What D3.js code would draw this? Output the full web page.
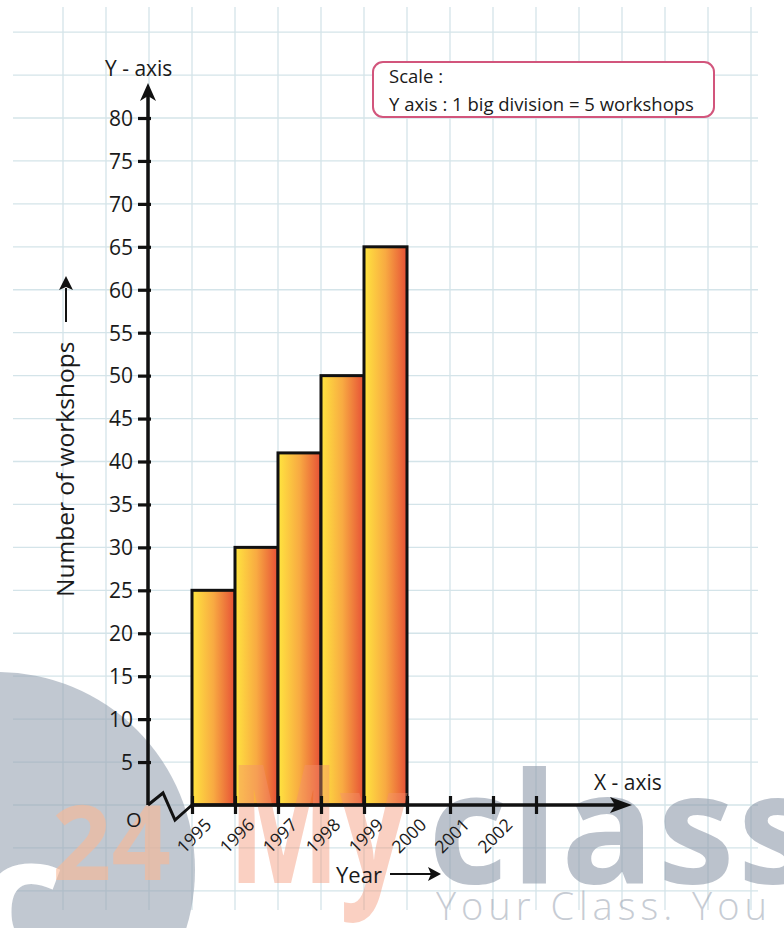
<!DOCTYPE html>
<html>
<head>
<meta charset="utf-8">
<script src="https://cdn.jsdelivr.net/npm/d3@7"></script>
<style>
  html, body { margin: 0; padding: 0; background: #ffffff; }
  svg { display: block; }
  text { font-family: "Open Sans", "Noto Sans", sans-serif; fill: #1a1a1a; }
</style>
</head>
<body>
<svg id="chart" width="784" height="928"></svg>
<script>
// ---------- data ----------
const barYears = [1995, 1996, 1997, 1998, 1999];
const workshops = [25, 30, 41, 50, 65];
const xTickYears = [1995, 1996, 1997, 1998, 1999, 2000, 2001, 2002, 2003];
const xTickLabels = ["1995", "1996", "1997", "1998", "1999", "2000", "2001", "2002", ""];
const yTickValues = [5, 10, 15, 20, 25, 30, 35, 40, 45, 50, 55, 60, 65, 70, 75, 80];
const titleY = "Number of workshops";
const scaleTitle = "Scale :";
const scaleText = "Y axis : 1 big division = 5 workshops";

// ---------- setup ----------
const svg = d3.select("#chart");
const originX = 148;

const y = d3.scaleLinear().domain([0, 80]).range([805, 118]);
const x = d3.scaleLinear().domain([1995, 2003]).range([192, 536]);
const step = x(1996) - x(1995);

// gradient
const defs = svg.append("defs");
const grad = defs.append("linearGradient").attr("id", "barGrad")
  .attr("x1", "0%").attr("x2", "100%").attr("y1", "0%").attr("y2", "0%");
grad.append("stop").attr("offset", "0%").attr("stop-color", "#ffe53f");
grad.append("stop").attr("offset", "50%").attr("stop-color", "#f8aa42");
grad.append("stop").attr("offset", "100%").attr("stop-color", "#e64f36");

// ---------- grid ----------
const grid = svg.append("g").attr("class", "grid");
const gridTop = 7, gridBottom = 910, gridLeft = 13, gridRight = 758;
const vCols = d3.range(-3, 14).map(k => x(1995) + k * step);
const hRows = d3.range(-2, 19).map(j => y(j * 5));
grid.selectAll("line.v").data(vCols).join("line").attr("class", "v")
  .attr("x1", d => d).attr("x2", d => d).attr("y1", gridTop).attr("y2", gridBottom)
  .attr("stroke", "#d4e4e9").attr("stroke-width", 1.3);
grid.selectAll("line.h").data(hRows.filter(v => v >= gridTop && v <= gridBottom)).join("line").attr("class", "h")
  .attr("y1", d => d).attr("y2", d => d).attr("x1", gridLeft).attr("x2", gridRight)
  .attr("stroke", "#d4e4e9").attr("stroke-width", 1.3);

// ---------- bars ----------
svg.append("g").selectAll("rect").data(barYears).join("rect")
  .attr("x", d => x(d))
  .attr("width", d => x(d + 1) - x(d))
  .attr("y", (d, i) => y(workshops[i]))
  .attr("height", (d, i) => y(0) - y(workshops[i]))
  .attr("fill", "url(#barGrad)")
  .attr("stroke", "#111")
  .attr("stroke-width", 3);

// ---------- watermark (beneath axes and labels) ----------
const wm = svg.append("g").attr("pointer-events", "none");
wm.append("circle").attr("cx", -3).attr("cy", 870).attr("r", 198).attr("fill", "#97a3b3").attr("opacity", 0.6);
wm.append("text").attr("x", -22).attr("y", 958).attr("font-size", 170).attr("font-weight", 700).style("fill", "#ffffff").text("c");
wm.append("text").attr("x", 52).attr("y", 880).attr("font-size", 104).attr("font-weight", 700).style("fill", "#fbb995").attr("opacity", 0.6).text("24");
wm.append("text").attr("transform", "translate(228,883) scale(0.72,1)").attr("font-size", 165).attr("font-weight", 700).style("fill", "#f5916f").attr("opacity", 0.42).text("My");
wm.append("text").attr("x", 428).attr("y", 883).attr("font-size", 155).attr("font-weight", 700).attr("letter-spacing", 3).style("fill", "#8f9aab").attr("opacity", 0.6).text("class");
wm.append("text").attr("x", 436).attr("y", 920).attr("font-size", 38).attr("font-weight", 300).attr("letter-spacing", 5).style("fill", "#9aa4b1").attr("opacity", 0.55).text("Your Class. You");

// ---------- y axis ----------
const yAxisG = svg.append("g").attr("transform", `translate(${originX},0)`)
  .call(d3.axisLeft(y).tickValues(yTickValues).tickSize(10).tickPadding(5));
yAxisG.select(".domain").remove();
yAxisG.selectAll(".tick line").attr("x1", 3).attr("x2", -10).attr("stroke", "#111").attr("stroke-width", 3.2);
yAxisG.selectAll(".tick text").attr("font-size", 21).attr("font-family", "'Open Sans', sans-serif").attr("fill", "#1a1a1a").attr("dy", "0.35em");

// y axis line + arrow
svg.append("line").attr("x1", originX).attr("x2", originX).attr("y1", y(0)).attr("y2", 96)
  .attr("stroke", "#111").attr("stroke-width", 3.5);
svg.append("path").attr("d", `M${originX},83 L${originX - 8},101 L${originX},96 L${originX + 8},101 Z`).attr("fill", "#111");

// ---------- x axis ----------
// zigzag break
svg.append("path").attr("d", `M${originX},${y(0)} L163,793 L175,820 L${x(1995)},${y(0)}`)
  .attr("fill", "none").attr("stroke", "#111").attr("stroke-width", 3).attr("stroke-linejoin", "miter");

const xAxisG = svg.append("g").attr("transform", `translate(0,${y(0)})`)
  .call(d3.axisBottom(x).tickValues(xTickYears).tickSize(8).tickFormat((d, i) => xTickLabels[i]));
xAxisG.select(".domain").remove();
xAxisG.selectAll(".tick line").attr("y1", -9).attr("y2", 9).attr("stroke", "#111").attr("stroke-width", 3.2);
xAxisG.selectAll(".tick text")
  .attr("font-size", 17.5).attr("font-family", "'Open Sans', sans-serif").attr("fill", "#1a1a1a")
  .attr("text-anchor", "end").attr("y", 0).attr("dy", "0")
  .attr("transform", "translate(20,21) rotate(-45)");

svg.append("line").attr("x1", x(1995)).attr("x2", 618).attr("y1", y(0)).attr("y2", y(0))
  .attr("stroke", "#111").attr("stroke-width", 3.5);
svg.append("path").attr("d", `M632,${y(0)} L610,${y(0) - 8} L615,${y(0)} L610,${y(0) + 8} Z`).attr("fill", "#111");

// ---------- labels ----------
svg.append("text").attr("x", 105).attr("y", 76).attr("font-size", 21).text("Y - axis");
svg.append("text").attr("x", 594).attr("y", 790).attr("font-size", 21).text("X - axis");
svg.append("text").attr("x", 126).attr("y", 827).attr("font-size", 20).text("O");

svg.append("text").attr("x", 336).attr("y", 883).attr("font-size", 22).text("Year");
svg.append("line").attr("x1", 390).attr("x2", 432).attr("y1", 874).attr("y2", 874).attr("stroke", "#111").attr("stroke-width", 2);
svg.append("path").attr("d", "M441,874 L428,867 L431,874 L428,881 Z").attr("fill", "#111");

svg.append("text").attr("transform", "translate(74,597) rotate(-90)").attr("font-size", 24.5).text(titleY);
svg.append("line").attr("x1", 66).attr("x2", 66).attr("y1", 322).attr("y2", 288).attr("stroke", "#111").attr("stroke-width", 2);
svg.append("path").attr("d", "M66,276 L59,290 L66,287 L73,290 Z").attr("fill", "#111");

// scale box
svg.append("rect").attr("x", 373).attr("y", 62).attr("width", 341).attr("height", 55).attr("rx", 10)
  .attr("fill", "#ffffff").attr("stroke", "#d2557c").attr("stroke-width", 2);
svg.append("text").attr("x", 389).attr("y", 83).attr("font-size", 18.5).text(scaleTitle);
svg.append("text").attr("x", 389).attr("y", 111).attr("font-size", 18.5).text(scaleText);
</script>
</body>
</html>
